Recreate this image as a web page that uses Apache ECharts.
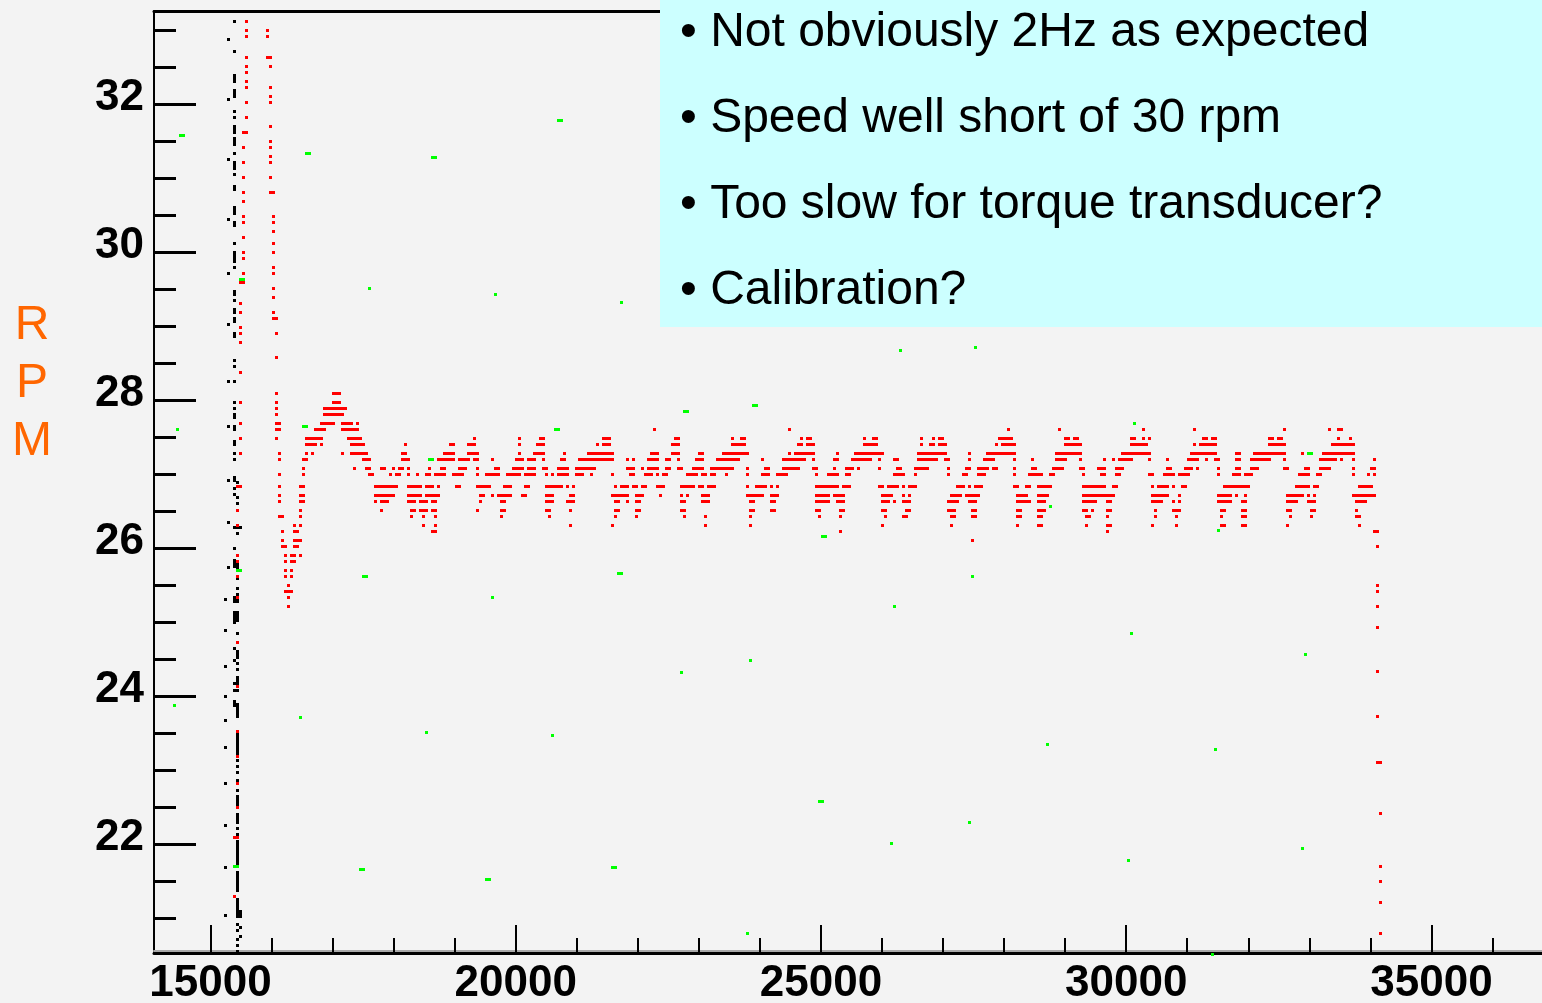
<!DOCTYPE html>
<html><head><meta charset="utf-8">
<script src="https://cdn.jsdelivr.net/npm/echarts@6/dist/echarts.min.js"></script>
<style>html,body{margin:0;padding:0;background:#f3f3f3;overflow:hidden}#c{width:1542px;height:1003px}</style>
</head><body><div id="c"></div>
<script>
// ---------------- axis ticks ----------------
const xMajorTicks = [15000, 20000, 25000, 30000, 35000];
const xMinorTicks = [16000, 17000, 18000, 19000, 21000, 22000, 23000, 24000, 26000, 27000, 28000, 29000, 31000, 32000, 33000, 34000, 36000];
const yMajorTicks = [22, 24, 26, 28, 30, 32];
const yMinorTicks = [21, 21.5, 22.5, 23, 23.5, 24.5, 25, 25.5, 26.5, 27, 27.5, 28.5, 29, 29.5, 30.5, 31, 31.5, 32.5, 33];
const bulletLines = ['\u2022 Not obviously 2Hz as expected', '\u2022 Speed well short of 30 rpm', '\u2022 Too slow for torque transducer?', '\u2022 Calibration?'];
const yTitleLetters = ['R', 'P', 'M'];

// ---------------- red series: RPM levels and horizontal runs [xStart, xEnd, ...] ----------------
const redLevels = [28.09, 27.96, 27.88, 27.80, 27.68, 27.60, 27.48, 27.40, 27.27, 27.19, 27.07, 26.99, 26.83, 26.71, 26.63, 26.50, 26.42, 26.30, 26.22, 26.10, 26.02, 25.90, 25.82, 25.69, 25.61, 25.49, 25.41, 25.33, 25.21];
const redRuns = [
 [16081,16081, 17015,17113],
 [15491,15491, 16081,16081, 17015,17113],
 [16081,16081, 16867,17211],
 [16081,16081, 16867,17162],
 [15491,15491, 16081,16130, 16818,17015, 17162,17309, 17407,17407],
 [16081,16130, 16719,16867, 17162,17407, 22272,22272, 24484,24484, 28071,28071, 28906,28906, 30283,30283, 31117,31117, 32592,32592, 33329,33329, 33476,33525],
 [15491,15491, 16081,16081, 16572,16818, 17260,17456, 19324,19324, 20061,20061, 20405,20455, 21437,21535, 22616,22665, 23550,23550, 23697,23746, 24680,24680, 24778,24827, 25712,25712, 25860,25909, 26646,26646, 26843,26843, 26941,26990, 27924,28120, 29004,29053, 29152,29201, 30086,30135, 30283,30283, 30381,30381, 31265,31314, 31412,31461, 32346,32395, 32493,32543, 33476,33476, 33672,33672],
 [16572,16719, 16818,16818, 17309,17506, 18194,18194, 18930,18980, 19225,19324, 20061,20061, 20356,20455, 21338,21338, 21437,21535, 22567,22665, 23550,23746, 24631,24680, 24778,24877, 25712,25909, 26646,26646, 26793,26843, 26941,27039, 27875,27875, 27973,28169, 29004,29250, 30086,30332, 31117,31117, 31215,31461, 32346,32592, 33378,33722],
 [15491,15491, 16130,16130, 16572,16572, 16670,16670, 17162,17162, 17309,17555, 18145,18194, 18832,18980, 19225,19373, 20061,20061, 20307,20455, 20798,20798, 21191,21584, 22223,22321, 22567,22665, 23010,23059, 23403,23795, 24484,24484, 24582,24877, 25270,25270, 25565,26007, 26596,27039, 27432,27432, 27727,28169, 28857,29250, 29938,30381, 31068,31461, 31806,31855, 32100,32592, 32887,32887, 33231,33722],
 [16130,16130, 16523,16572, 17506,17604, 18145,18243, 18734,18980, 19078,19225, 19324,19373, 19619,19619, 20012,20110, 20209,20307, 20455,20455, 20749,20798, 21044,21584, 21830,21830, 21929,21929, 22174,22321, 22469,22518, 22665,22665, 22961,23059, 23305,23648, 24042,24042, 24386,24729, 24877,24877, 25221,25270, 25516,25811, 25958,25958, 26203,26252, 26596,26892, 27039,27088, 27432,27432, 27678,27826, 28169,28169, 28464,28464, 28857,29004, 29250,29250, 29643,29643, 29791,29791, 29889,30086, 30381,30381, 30675,30675, 31019,31166, 31314,31314, 31461,31510, 31806,31855, 32051,32346, 32592,32592, 33182,33427, 33525,33525, 33722,33722, 34066,34066],
 [16523,16523, 17358,17358, 17555,17604, 17801,17850, 17998,17998, 18096,18145, 18243,18243, 18587,18587, 18783,18832, 19078,19176, 19373,19373, 19668,19717, 19963,20110, 20209,20307, 20455,20504, 20700,20847, 20995,21289, 21830,21929, 22076,22076, 22174,22321, 22469,22518, 22665,22715, 22912,23059, 23206,23550, 23795,23795, 24090,24140, 24386,24631, 24877,24926, 25221,25221, 25418,25516, 25614,25614, 25958,25958, 26252,26301, 26548,26744, 27088,27088, 27383,27432, 27580,27727, 27826,27875, 28169,28169, 28464,28513, 28808,28955, 29250,29299, 29545,29643, 29840,29938, 30675,30724, 30970,31068, 31166,31166, 31510,31510, 31806,31855, 32051,32149, 32592,32641, 32936,32985, 33182,33329, 33722,33722, 34017,34066],
 [16130,16130, 16523,16523, 17604,17653, 17948,17948, 18047,18096, 18243,18243, 18390,18390, 18538,18587, 18685,18832, 18980,19127, 19373,19373, 19521,19717, 19864,20061, 20159,20307, 20504,20504, 20602,20602, 20700,20847, 20995,21093, 21240,21240, 21584,21584, 21880,21929, 22125,22223, 22321,22321, 22420,22469, 22813,22961, 23059,23108, 23206,23255, 23452,23452, 23795,23795, 24042,24140, 24287,24435, 24926,24926, 25123,25270, 25418,25467, 26203,26351, 26548,26548, 27088,27088, 27334,27383, 27580,27678, 28169,28169, 28415,28611, 28758,28808, 29299,29299, 29594,29643, 29840,29889, 30381,30430, 30626,30773, 30872,31019, 31510,31510, 31757,31855, 31953,32051, 32838,32985, 33133,33182, 33722,33722, 33968,33968, 34066,34066],
 [15442,15491, 16130,16130, 16474,16523, 17702,18047, 18243,18440, 18538,18636, 18734,18734, 19029,19078, 19373,19570, 19815,19914, 20159,20208, 20504,20749, 20847,20847, 20946,20946, 21633,21633, 21732,21830, 21929,21978, 22076,22125, 22321,22420, 22715,22912, 23010,23059, 23157,23255, 23795,23795, 23943,24090, 24189,24189, 24287,24287, 24926,25270, 25368,25467, 25958,26007, 26105,26252, 26351,26351, 26449,26548, 27235,27334, 27432,27432, 27531,27629, 28169,28218, 28366,28415, 28562,28758, 29299,29643, 29791,29840, 30430,30430, 30528,30675, 30773,30773, 30921,30970, 31609,32002, 32788,32985, 33083,33133, 33820,34017],
 [16130,16130, 16474,16523, 17702,17998, 18243,18440, 18538,18734, 19422,19471, 19619,19619, 19717,19914, 20110,20159, 20504,20602, 20897,20946, 21584,21830, 21978,22076, 22370,22370, 22715,22715, 22813,22813, 23059,23157, 23795,24042, 24189,24287, 24926,25123, 25221,25368, 26007,26154, 26351,26351, 26449,26449, 27137,27285, 27383,27580, 28218,28366, 28562,28709, 29299,29791, 30430,30675, 30872,30872, 31510,31707, 31806,31806, 31953,31953, 32641,32887, 32985,32985, 33083,33083, 33722,34066],
 [16130,16130, 16474,16523, 17702,17702, 17801,17899, 18243,18341, 18440,18538, 18636,18685, 19422,19422, 19766,19815, 20504,20602, 20847,20946, 21633,21682, 21830,21830, 21978,22027, 22715,22764, 23059,23157, 23845,23894, 24189,24238, 24926,25123, 25270,25368, 26007,26105, 26203,26203, 26351,26449, 27088,27236, 27432,27531, 28218,28415, 28562,28660, 29299,29496, 29692,29741, 30430,30577, 30773,30773, 30872,30872, 31510,31707, 31904,31953, 32641,32788, 32985,33083, 33771,33918],
 [15442,15442, 16474,16474, 17801,17801, 18292,18341, 18440,18538, 18636,18685, 19373,19373, 19766,19815, 20504,20553, 20897,20897, 21633,21682, 21978,22027, 22715,22764, 23845,23894, 24189,24238, 24926,24975, 25319,25368, 26007,26056, 26400,26449, 27088,27186, 27481,27531, 28218,28267, 28562,28660, 29299,29348, 29447,29447, 29692,29741, 30479,30479, 30773,30872, 31560,31609, 31904,31953, 32641,32690, 33034,33083, 33771,33771],
 [16130,16179, 16474,16474, 18292,18292, 18489,18489, 18685,18685, 19766,19766, 20553,20553, 21633,21633, 21978,21978, 22764,22764, 23108,23108, 23845,23845, 24975,24975, 25319,25319, 26056,26056, 26351,26400, 27137,27186, 27481,27531, 28218,28267, 28562,28611, 29348,29398, 29692,29692, 30479,30479, 30823,30823, 31560,31560, 31904,31953, 32690,32690, 33034,33034, 33771,33820],
 [15442,15442, 16376,16376, 16474,16474, 18489,18489, 18685,18685, 20897,20897, 21584,21584, 23108,23108, 23845,23845, 26007,26007, 27137,27137, 28218,28218, 28562,28611, 29348,29348, 29692,29741, 30430,30430, 30823,30823, 31560,31609, 31904,31953, 32641,32641, 33820,33820],
 [16179,16179, 16376,16425, 18636,18685, 25319,25319, 29692,29692, 34066,34115],
 [16179,16179, 16376,16474, 27481,27481],
 [16179,16228, 16376,16425, 34115,34115],
 [15442,15442, 16228,16228, 16326,16376, 16474,16474],
 [15442,15442, 16228,16228, 16326,16376],
 [16228,16228, 16326,16326],
 [15442,15442, 16228,16228, 16326,16326],
 [16277,16277, 34115,34115],
 [16228,16326, 34115,34115],
 [15442,15442, 16277,16277],
 [16277,16277, 34115,34115]
];
// isolated red readings [x, rpm]
const redDots = [
 [15589,33.11],[15589,32.99],[15589,32.91],[15589,32.63],[15589,32.50],[15589,32.42],[15589,32.30],[15589,32.22],[15589,32.02],[15589,31.82],[15589,31.61],
 [15540,31.61],[15540,31.41],[15540,31.21],[15540,31.00],[15540,30.80],[15540,30.68],[15540,30.48],[15540,30.40],[15540,30.19],[15540,29.99],[15540,29.91],[15540,29.71],[15540,29.59],
 [15491,29.59],[15491,29.30],[15491,29.18],[15491,28.98],[15491,28.90],[15491,28.78],[15491,28.37],
 [15442,24.72],[15442,24.13],[15442,23.52],[15442,23.18],[15442,22.82],[15442,22.49],[15442,22.09],
 [15393,22.09],[15393,21.29],
 [15933,32.99],[15933,32.91],[15933,32.63],
 [15982,32.63],[15982,32.50],[15982,32.22],[15982,32.10],[15982,32.02],[15982,31.69],[15982,31.49],[15982,31.41],[15982,31.29],[15982,31.21],[15982,31.00],[15982,30.80],
 [16032,30.80],[16032,30.48],[16032,30.40],[16032,30.28],[16032,30.11],[16032,29.99],[16032,29.79],[16032,29.71],[16032,29.50],[16032,29.38],[16032,29.18],[16032,29.10],
 [16081,29.10],[16081,28.90],[16081,28.57],
 [34115,24.92],[34115,24.33],[34115,23.72],[34115,23.10],
 [34164,23.10],[34164,22.41],[34164,21.69],[34164,21.49],[34164,21.21],[34164,20.79]
];
// black series: vertical runs [x, rpmHigh, rpmLow]
const blackRuns = [
 [15393,33.11,33.11],[15393,32.71,32.71],[15393,32.38,32.30],[15393,32.18,32.10],[15393,31.90,31.90],[15393,31.82,31.82],[15393,31.69,31.61],[15393,31.53,31.45],[15393,31.33,31.33],[15393,31.21,31.13],[15393,31.05,31.05],[15393,30.88,30.84],[15393,30.60,30.52],[15393,30.40,30.36],[15393,30.11,30.11],[15393,29.99,29.87],[15393,29.79,29.79],[15393,29.46,29.42],[15393,29.34,29.34],[15393,29.22,29.18],[15393,29.10,29.06],[15393,28.90,28.86],[15393,28.53,28.53],[15393,28.45,28.45],[15393,28.25,28.25],[15393,27.96,27.96],[15393,27.88,27.88],[15393,27.80,27.76],[15393,27.64,27.60],[15393,27.44,27.40],[15393,27.27,27.27],[15393,27.19,27.19],[15393,26.95,26.91],[15393,26.80,26.80],[15393,26.72,26.72],[15393,26.27,26.27],[15393,25.99,25.99],[15393,25.83,25.75],[15393,25.33,25.28],[15393,25.13,25.02],[15393,24.99,24.99],[15393,24.64,24.64],[15393,24.48,24.48],[15393,24.17,24.17],[15393,24.07,24.07],[15393,23.92,23.87],
 [15294,32.87,32.87],[15294,32.06,32.06],[15294,31.25,31.25],[15294,30.44,30.44],[15294,29.71,29.71],[15294,29.02,29.02],[15294,28.25,28.25],[15294,27.64,27.64],[15294,26.91,26.91],[15294,26.34,26.34],[15294,25.73,25.73],
 [15245,25.30,25.30],[15245,24.88,24.88],[15245,24.40,24.40],[15245,23.99,23.99],[15245,23.67,23.67],[15245,23.30,23.30],[15245,22.82,22.82],[15245,22.25,22.25],[15245,21.68,21.68],[15245,21.03,21.03],
 [15442,26.88,26.88],[15442,26.68,26.68],[15442,26.60,26.60],[15442,26.27,26.27],[15442,26.19,26.19],[15442,25.77,25.71],[15442,25.59,25.59],[15442,25.45,25.45],[15442,25.37,25.37],[15442,25.33,25.28],[15442,25.13,25.02],[15442,24.84,24.84],[15442,24.60,24.52],[15442,24.44,24.44],[15442,24.36,24.36],[15442,24.25,24.17],[15442,24.07,24.07],[15442,23.88,23.72],[15442,23.52,23.22],[15442,23.13,23.13],[15442,23.05,23.05],[15442,22.96,22.96],[15442,22.86,22.86],[15442,22.72,22.72],[15442,22.64,22.53],[15442,22.40,22.29],[15442,22.21,22.21],[15442,22.13,22.13],[15442,22.03,21.96],[15442,21.94,21.69],[15442,21.61,21.49],[15442,21.45,21.37],[15442,21.25,21.02],[15442,20.91,20.91],[15442,20.83,20.83],[15442,20.71,20.71],[15442,20.63,20.63],[15442,20.55,20.55],
 [15491,26.27,26.27],[15491,21.09,21.02],[15491,20.87,20.87],[15491,20.75,20.75]
];
// green series: [xStart, xEnd, rpm]
const greenRuns = [
 [14508,14557,31.57],[14459,14459,27.60],[14410,14410,23.87],
 [16572,16621,31.33],[16523,16572,27.64],[16474,16474,23.71],
 [15491,15540,29.63],[15442,15491,25.69],[15393,15442,21.69],
 [17604,17604,29.50],[17506,17555,25.61],[17457,17506,21.65],
 [18636,18685,31.27],[18587,18636,27.19],[18538,18538,23.50],
 [19668,19668,29.42],[19619,19619,25.33],[19521,19570,21.52],
 [20700,20749,31.78],[20651,20700,27.60],[20602,20602,23.46],
 [21732,21732,29.32],[21683,21732,25.65],[21584,21633,21.68],
 [22764,22813,27.84],[22715,22715,24.32],
 [23894,23943,27.92],[23845,23845,24.48],[23796,23796,20.79],
 [25024,25073,26.15],[24975,25024,22.57],
 [26302,26302,28.67],[26204,26204,25.21],[26154,26154,22.00],
 [27530,27530,28.71],[27481,27481,25.61],[27432,27432,22.29],
 [28759,28759,26.56],[28710,28710,23.34],
 [30135,30135,27.68],[30086,30086,24.84],[30037,30037,21.77],
 [31511,31511,26.23],[31462,31462,23.27],[31412,31412,20.50],
 [32986,33035,27.27],[32936,32936,24.56],[32887,32887,21.94]
];

// ---------------- build ----------------
const X_MIN = 14074, X_MAX = 37008, Y_MIN = 20.525, Y_MAX = 33.254;
const FONT = '"Liberation Sans", Arial, Helvetica, sans-serif';

const redData = [];
redLevels.forEach(function (y, i) {
  const r = redRuns[i];
  for (let j = 0; j < r.length; j += 2) redData.push([r[j], r[j + 1], y]);
});
redDots.forEach(function (d) { redData.push([d[0], d[0], d[1]]); });

function hRun(color) {
  return function (params, api) {
    const y = api.value(2);
    const a = api.coord([api.value(0), y]);
    const b = api.coord([api.value(1), y]);
    const l = Math.round(a[0] - 1.5), r = Math.round(b[0] + 1.5), t = Math.round(a[1] - 1.5);
    return { type: 'rect', shape: { x: l, y: t, width: r - l, height: 3 }, style: { fill: color } };
  };
}
function vRun(color) {
  return function (params, api) {
    const x = api.value(0);
    const a = api.coord([x, api.value(1)]);
    const b = api.coord([x, api.value(2)]);
    const l = Math.round(a[0] - 1.5), t = Math.round(a[1] - 1.5), bt = Math.round(b[1] + 1.5);
    return { type: 'rect', shape: { x: l, y: t, width: 3, height: bt - t }, style: { fill: color } };
  };
}

const baseX = { type: 'value', min: X_MIN, max: X_MAX, splitLine: { show: false }, axisLabel: { show: false }, axisTick: { show: false } };
const baseY = { type: 'value', min: Y_MIN, max: Y_MAX, splitLine: { show: false }, axisLabel: { show: false }, axisTick: { show: false } };

const graphics = [
  { type: 'rect', z: 100, shape: { x: 660, y: 0, width: 882, height: 327 }, style: { fill: '#ccffff' } }
];
bulletLines.forEach(function (t, i) {
  graphics.push({ type: 'text', z: 101, x: 680, y: 33 + i * 86,
    style: { text: t, fill: '#000', font: '48px ' + FONT, textVerticalAlign: 'middle', verticalAlign: 'middle' } });
});
yTitleLetters.forEach(function (t, i) {
  graphics.push({ type: 'text', z: 101, x: 32, y: 326 + i * 58,
    style: { text: t, fill: '#ff6600', font: '48px ' + FONT, align: 'center', textAlign: 'center', verticalAlign: 'middle', textVerticalAlign: 'middle' } });
});

const option = {
  backgroundColor: '#f3f3f3',
  animation: false,
  grid: { left: 154, top: 11, width: 1400, height: 942, containLabel: false, outerBoundsMode: 'none' },
  xAxis: [
    Object.assign({}, baseX, { position: 'bottom', offset: -2, axisLine: { show: true, onZero: false, lineStyle: { color: '#a8a8a8', width: 2 } } }),
    Object.assign({}, baseX, { position: 'bottom',
      axisLine: { show: true, onZero: false, lineStyle: { color: '#000', width: 3 } },
      axisTick: { show: true, inside: true, length: 28, customValues: xMajorTicks, lineStyle: { color: '#000', width: 2 } },
      axisLabel: { show: true, customValues: xMajorTicks, margin: 9, color: '#000', fontSize: 44, fontWeight: 'bold', fontFamily: FONT,
        formatter: function (v) { return String(Math.round(v)); } } }),
    Object.assign({}, baseX, { position: 'bottom',
      axisLine: { show: false, onZero: false },
      axisTick: { show: true, inside: true, length: 15, customValues: xMinorTicks, lineStyle: { color: '#000', width: 2 } } }),
    Object.assign({}, baseX, { position: 'top', axisLine: { show: true, onZero: false, lineStyle: { color: '#000', width: 3 } } })
  ],
  yAxis: [
    Object.assign({}, baseY, { position: 'left',
      axisLine: { show: true, onZero: false, lineStyle: { color: '#000', width: 2 } },
      axisTick: { show: true, inside: true, length: 42, customValues: yMajorTicks, lineStyle: { color: '#000', width: 3 } },
      axisLabel: { show: true, customValues: yMajorTicks, margin: 10, color: '#000', fontSize: 44, fontWeight: 'bold', fontFamily: FONT,
        verticalAlign: 'bottom', lineHeight: 12, formatter: function (v) { return String(Math.round(v)); } } }),
    Object.assign({}, baseY, { position: 'left',
      axisLine: { show: false, onZero: false },
      axisTick: { show: true, inside: true, length: 22, customValues: yMinorTicks, lineStyle: { color: '#000', width: 3 } } })
  ],
  series: [
    { type: 'custom', name: 'black', xAxisIndex: 1, yAxisIndex: 0, renderItem: vRun('#000000'), data: blackRuns, encode: { x: 0, y: [1, 2] }, silent: true, z: 3 },
    { type: 'custom', name: 'red', xAxisIndex: 1, yAxisIndex: 0, renderItem: hRun('#ff0000'), data: redData, encode: { x: [0, 1], y: 2 }, silent: true, z: 4 },
    { type: 'custom', name: 'green', xAxisIndex: 1, yAxisIndex: 0, renderItem: hRun('#00ff00'), data: greenRuns, encode: { x: [0, 1], y: 2 }, silent: true, z: 5 }
  ],
  graphic: graphics
};
const chart = echarts.init(document.getElementById('c'));
chart.setOption(option);
</script>
</body></html>
